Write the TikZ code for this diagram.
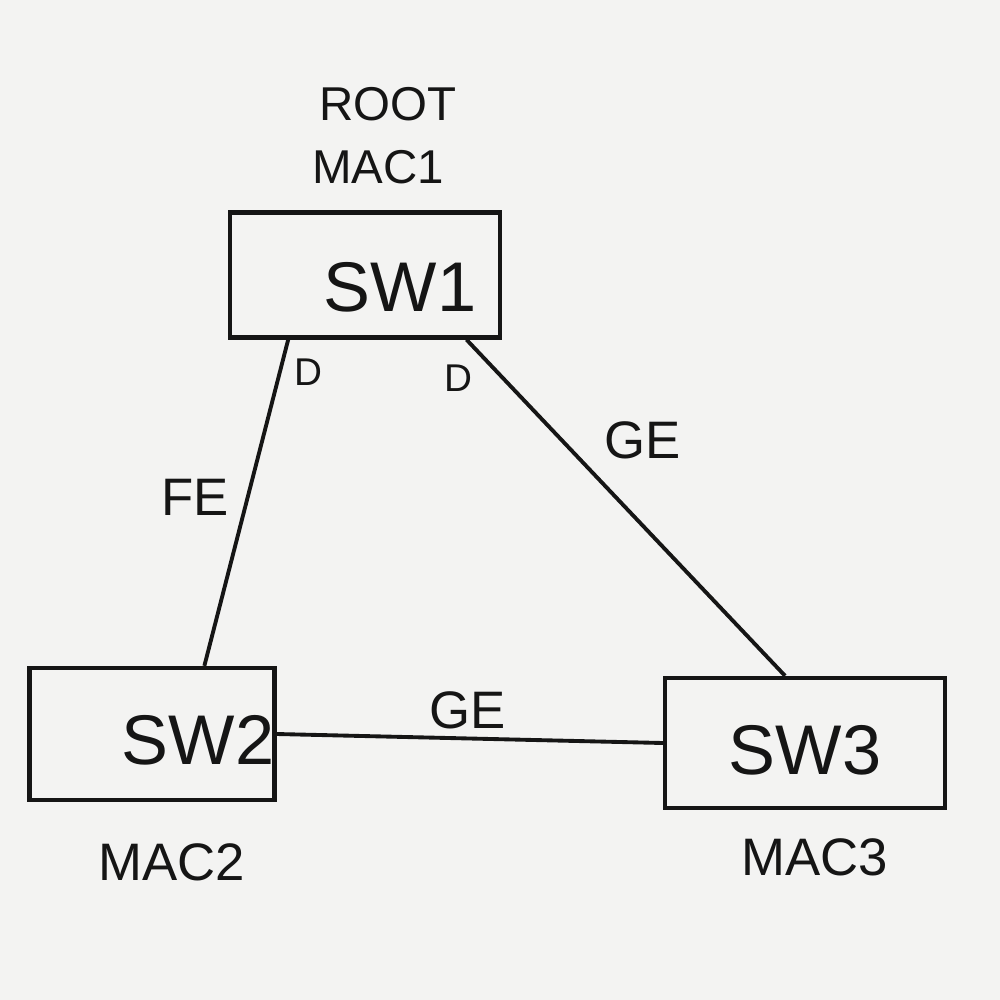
\documentclass[tikz,border=0pt]{standalone}
\usepackage{fontspec}
\setmainfont{Liberation Sans}
\usetikzlibrary{calc}
\definecolor{paper}{HTML}{F3F3F2}
\definecolor{ink}{HTML}{151515}
\begin{document}
\begin{tikzpicture}[x=0.01cm,y=-0.01cm,
  switchbox/.style={draw=ink,line width=1.2pt,rectangle,inner sep=0pt},
  link/.style={draw=ink,line width=1.1pt},
  big/.style={text=ink,font=\fontsize{20}{22}\selectfont,inner sep=1pt},
  tag/.style={text=ink,font=\fontsize{15}{17}\selectfont,inner sep=1pt},
  smalltag/.style={text=ink,font=\fontsize{13.5}{15}\selectfont,inner sep=1pt},
  port/.style={text=ink,font=\fontsize{11}{12}\selectfont,inner sep=1pt}]
  % sheet
  \fill[paper] (0,0) rectangle (1000,1000);
  \useasboundingbox (0,0) rectangle (1000,1000);

  % switches
  \node[switchbox,minimum width=2.7cm,minimum height=1.25cm] (sw1) at (365,275) {};
  \node[switchbox,minimum width=2.45cm,minimum height=1.32cm] (sw2) at (152,734) {};
  \node[switchbox,minimum width=2.8cm,minimum height=1.30cm] (sw3) at (805,743) {};

  \node[big] (t1) at (400,287) {SW1};
  \node[big] (t2) at (198,740) {SW2};
  \node[big] (t3) at (805,750) {SW3};

  % annotations
  \node[smalltag] (root) at (388,104) {ROOT};
  \node[smalltag] (mac1) at (378,167) {MAC1};
  \node[tag] (mac2) at (172,862) {MAC2};
  \node[tag] (mac3) at (815,857) {MAC3};

  % links
  \coordinate (p1) at ($(sw1.south west)!0.22!(sw1.south east)$);
  \coordinate (p2) at ($(sw1.south west)!0.87!(sw1.south east)$);
  \coordinate (q2) at ($(sw2.north west)!0.71!(sw2.north east)$);
  \coordinate (q3) at ($(sw3.north west)!0.43!(sw3.north east)$);
  \draw[link] (p1) -- (q2);
  \draw[link] (p2) -- (q3);
  \draw[link] (sw2.east) -- (sw3.west);

  % port roles and link speeds
  \node[port] (d1) at (308,372) {D};
  \node[port] (d2) at (458,378) {D};
  \node[tag] (fe) at (195,497) {FE};
  \node[tag] (ge1) at (643,440) {GE};
  \node[tag] (ge2) at (468,710) {GE};
\end{tikzpicture}
\end{document}
